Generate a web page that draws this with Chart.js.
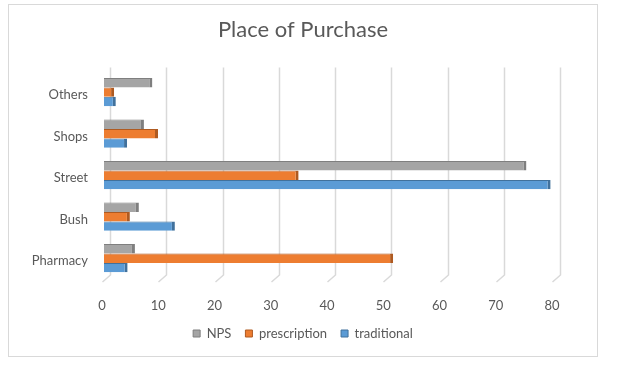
<!DOCTYPE html>
<html>
<head>
<meta charset="utf-8">
<title>Place of Purchase</title>
<script src="https://cdn.jsdelivr.net/npm/chart.js@4/dist/chart.umd.min.js"></script>
<style>
  html, body { margin:0; padding:0; background:#fff; }
  #wrap { position:relative; width:618px; height:368px; }
</style>
</head>
<body>
<div id="wrap"><canvas id="chartPlace" width="618" height="368"></canvas></div>
<script>
// Data
const categories = ['Others', 'Shops', 'Street', 'Bush', 'Pharmacy'];
const npsValues          = [8.6, 7.1, 75.1, 6.2, 5.5];
const prescriptionValues = [1.8, 9.6, 34.6, 4.6, 51.4];
const traditionalValues  = [2.1, 4.1, 79.4, 12.6, 4.2];
const xTicks = [0, 10, 20, 30, 40, 50, 60, 70, 80];

const FONT = 'Lato, "Liberation Sans", sans-serif';
const TEXT = '#595959';
const GRID = '#d9d9d9';

// Back-wall gridlines with the little floor diagonal, like Excel 3D bars
const wallGrid = {
  id: 'wallGrid',
  beforeDatasetsDraw(chart) {
    const ctx = chart.ctx, x = chart.scales.x, a = chart.chartArea;
    ctx.save();
    ctx.strokeStyle = GRID;
    ctx.lineWidth = 1.5;
    xTicks.forEach(function(v){
      const xb = Math.round(x.getPixelForValue(v)) + 6.5;
      ctx.beginPath();
      ctx.moveTo(xb, a.top - 4);
      ctx.lineTo(xb, a.bottom - 4);
      ctx.lineTo(xb - 8, a.bottom + 3);
      ctx.stroke();
    });
    ctx.restore();
  }
};

// Outer frame
const frame = {
  id: 'frame',
  afterDraw(chart) {
    const ctx = chart.ctx;
    ctx.save();
    ctx.strokeStyle = GRID;
    ctx.lineWidth = 1;
    ctx.strokeRect(8.5, 4.5, 589, 352);
    ctx.restore();
  }
};

function barSet(label, data, fill, side) {
  return {
    label: label,
    data: data,
    backgroundColor: fill,
    borderColor: side,
    borderWidth: { top:1, right:3, bottom:0, left:0 },
    borderSkipped: false,
    barPercentage: 1.0,
    categoryPercentage: 0.68
  };
}

const ctx = document.getElementById('chartPlace').getContext('2d');
const chart = new Chart(ctx, {
  type: 'bar',
  data: {
    labels: categories,
    datasets: [
      barSet('NPS', npsValues, '#a5a5a5', '#7f7f7f'),
      barSet('prescription', prescriptionValues, '#ed7d31', '#ae5a21'),
      barSet('traditional', traditionalValues, '#5b9bd5', '#41719c')
    ]
  },
  options: {
    indexAxis: 'y',
    responsive: false,
    animation: false,
    layout: { padding: { top:4, left:8, right:20, bottom:18 } },
    plugins: {
      title: {
        display: true,
        text: 'Place of Purchase',
        color: TEXT,
        font: { family: FONT, size: 22, weight: 'normal' },
        padding: { top:13, bottom:28 }
      },
      legend: {
        position: 'bottom',
        labels: {
          color: TEXT,
          font: { family: FONT, size: 13 },
          boxWidth: 7,
          boxHeight: 7,
          padding: 14
        }
      },
      tooltip: { enabled: false }
    },
    scales: {
      x: {
        min: 0,
        max: 80,
        afterBuildTicks: function(s){ s.ticks = xTicks.map(v => ({ value: v })); },
        grid: { display: false },
        border: { display: false },
        ticks: { color: TEXT, font: { family: FONT, size: 13 }, padding: 11, labelOffset: -2 },
        afterFit: function(s){ s.height = 34; }
      },
      y: {
        grid: { display: false },
        border: { display: false },
        ticks: { color: TEXT, font: { family: FONT, size: 13 }, padding: 8, labelOffset: 3 },
        afterFit: function(s){ s.width = 96; }
      },
      // empty right axis only to keep the plot narrower than the frame
      yRight: {
        position: 'right',
        grid: { display: false },
        border: { display: false },
        ticks: { display: false },
        afterFit: function(s){ s.width = 44; }
      }
    }
  },
  plugins: [wallGrid, frame]
});
</script>
</body>
</html>
